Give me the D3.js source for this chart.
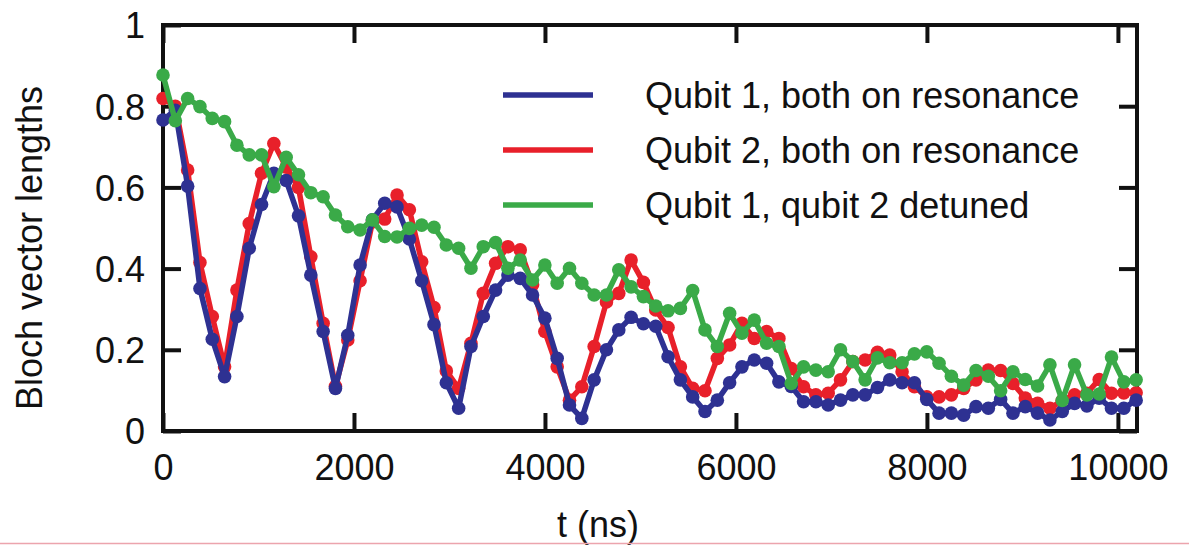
<!DOCTYPE html>
<html>
<head>
<meta charset="utf-8">
<script src="https://cdn.jsdelivr.net/npm/d3@7/dist/d3.min.js"></script>
<style>
  html, body { margin: 0; padding: 0; background: #fff; }
  svg { display: block; }
  text { font-family: "Liberation Sans", Arial, Helvetica, sans-serif; fill: #111; }
</style>
</head>
<body>
<svg id="chart" width="1189" height="545"></svg>
<script>
// Sampling times (ns)
const times = [0,129,258,387,516,645,774,903,1032,1161,1290,1419,1548,1677,1806,1935,2064,2193,2322,2451,
  2580,2709,2838,2967,3096,3225,3354,3483,3612,3741,3870,3999,4128,4257,4386,4515,4644,4773,4902,5031,
  5160,5289,5418,5547,5676,5805,5934,6063,6192,6321,6450,6579,6708,6837,6966,7095,7224,7353,7482,7611,
  7740,7869,7998,8127,8256,8385,8514,8643,8772,8901,9030,9159,9288,9417,9546,9675,9804,9933,10062,10191];

// Qubit 1, both on resonance
const qubit1Resonant = [0.766,0.79,0.603,0.351,0.226,0.134,0.282,0.45,0.558,0.635,
  0.617,0.53,0.384,0.245,0.105,0.236,0.409,0.52,0.561,0.552,
  0.473,0.37,0.262,0.119,0.056,0.208,0.282,0.347,0.384,0.376,
  0.335,0.278,0.179,0.064,0.031,0.126,0.2,0.249,0.28,0.264,
  0.258,0.183,0.126,0.084,0.048,0.076,0.119,0.158,0.175,0.167,
  0.121,0.11,0.072,0.072,0.064,0.076,0.089,0.089,0.107,0.126,
  0.119,0.119,0.078,0.044,0.044,0.039,0.06,0.056,0.078,0.044,
  0.06,0.044,0.027,0.048,0.068,0.062,0.081,0.056,0.056,0.076];

// Qubit 2, both on resonance
const qubit2Resonant = [0.819,0.80,0.643,0.415,0.282,0.158,0.347,0.511,0.635,0.708,
  0.65,0.6,0.429,0.265,0.11,0.224,0.37,0.515,0.522,0.581,
  0.545,0.417,0.304,0.148,0.105,0.216,0.339,0.413,0.454,0.446,
  0.36,0.245,0.158,0.076,0.109,0.208,0.318,0.339,0.421,0.366,
  0.298,0.255,0.158,0.105,0.099,0.179,0.212,0.265,0.228,0.245,
  0.228,0.154,0.109,0.089,0.093,0.126,0.171,0.175,0.194,0.187,
  0.146,0.109,0.084,0.084,0.089,0.105,0.126,0.15,0.149,0.117,
  0.081,0.068,0.056,0.075,0.089,0.093,0.127,0.093,0.094,0.094];

// Qubit 1, qubit 2 detuned
const qubit1Detuned = [0.877,0.764,0.819,0.799,0.77,0.762,0.704,0.68,0.68,0.602,
  0.674,0.631,0.587,0.577,0.532,0.503,0.495,0.52,0.479,0.478,
  0.499,0.507,0.502,0.458,0.45,0.401,0.454,0.464,0.401,0.421,
  0.372,0.409,0.364,0.401,0.364,0.335,0.335,0.397,0.355,0.331,
  0.308,0.296,0.302,0.346,0.249,0.208,0.29,0.241,0.273,0.216,
  0.208,0.117,0.158,0.15,0.146,0.2,0.171,0.126,0.18,0.168,
  0.168,0.19,0.195,0.167,0.135,0.113,0.149,0.135,0.099,0.146,
  0.127,0.111,0.163,0.075,0.163,0.089,0.091,0.182,0.121,0.126];

const seriesNames = ["Qubit 1, both on resonance", "Qubit 2, both on resonance", "Qubit 1, qubit 2 detuned"];
const seriesColors = ["#2e3192", "#e8202a", "#3aaa48"];
const xTicks = [0, 2000, 4000, 6000, 8000, 10000];
const yTicks = [0, 0.2, 0.4, 0.6, 0.8, 1];

(function draw() {
  const svg = d3.select("#chart");
  const plotLeft = 163, plotRight = 1137, plotTop = 25, plotBottom = 431;

  const x = d3.scaleLinear().domain([0, 10200]).range([plotLeft, plotRight]);
  const y = d3.scaleLinear().domain([0, 1]).range([plotBottom, plotTop]);

  const fontSize = 36;
  const frameWidth = 4;
  const tickLen = 18;

  // Axes with inward ticks; labels on left and bottom only
  const gx = svg.append("g").attr("transform", `translate(0,${plotBottom})`)
    .call(d3.axisBottom(x).tickValues(xTicks).tickFormat(d3.format("d")).tickSize(-tickLen).tickPadding(23));
  const gy = svg.append("g").attr("transform", `translate(${plotLeft},0)`)
    .call(d3.axisLeft(y).tickValues(yTicks)
      .tickFormat(d => d === 0 || d === 1 ? d3.format("d")(d) : d3.format(".1f")(d))
      .tickSize(-tickLen).tickPadding(18));
  const gxTop = svg.append("g").attr("transform", `translate(0,${plotTop})`)
    .call(d3.axisTop(x).tickValues(xTicks).tickFormat("").tickSize(-tickLen));
  const gyRight = svg.append("g").attr("transform", `translate(${plotRight},0)`)
    .call(d3.axisRight(y).tickValues(yTicks).tickFormat("").tickSize(-tickLen));

  [gx, gy, gxTop, gyRight].forEach(g => {
    g.select(".domain").remove();
    g.selectAll(".tick line").attr("stroke", "#111").attr("stroke-width", frameWidth);
    g.selectAll(".tick text").attr("font-size", fontSize).attr("fill", "#111")
      .attr("font-family", "'Liberation Sans', Arial, sans-serif");
  });
  gx.selectAll(".tick text").attr("dy", "0.71em");
  gy.selectAll(".tick text").attr("dy", "0.36em");

  // Plot frame
  svg.append("rect")
    .attr("x", plotLeft).attr("y", plotTop)
    .attr("width", plotRight - plotLeft).attr("height", plotBottom - plotTop)
    .attr("fill", "none").attr("stroke", "#111").attr("stroke-width", frameWidth);

  // Series: red first, then blue, then green on top
  const allSeries = [qubit1Resonant, qubit2Resonant, qubit1Detuned];
  const drawOrder = [1, 0, 2];
  const line = d3.line().x(d => x(d[0])).y(d => y(d[1]));

  drawOrder.forEach(k => {
    const pts = times.map((t, i) => [t, allSeries[k][i]]);
    const g = svg.append("g");
    g.append("path").datum(pts)
      .attr("d", line).attr("fill", "none")
      .attr("stroke", seriesColors[k]).attr("stroke-width", 5.5)
      .attr("stroke-linejoin", "round");
    g.selectAll("circle").data(pts).join("circle")
      .attr("cx", d => x(d[0])).attr("cy", d => y(d[1]))
      .attr("r", 6.8).attr("fill", seriesColors[k]);
  });

  // Legend
  const legendY = [95, 150, 205];
  seriesNames.forEach((name, k) => {
    svg.append("line")
      .attr("x1", 503).attr("x2", 593)
      .attr("y1", legendY[k]).attr("y2", legendY[k])
      .attr("stroke", seriesColors[k]).attr("stroke-width", 5.5);
    svg.append("text")
      .attr("x", 645).attr("y", legendY[k])
      .attr("dy", "0.36em")
      .attr("font-size", 36)
      .text(name);
  });

  // Axis titles
  svg.append("text")
    .attr("transform", `translate(42,${(plotTop + plotBottom) / 2 + 20}) rotate(-90)`)
    .attr("text-anchor", "middle")
    .attr("font-size", fontSize)
    .text("Bloch vector lengths");

  svg.append("text")
    .attr("x", 598).attr("y", 537)
    .attr("text-anchor", "middle")
    .attr("font-size", fontSize)
    .text("t (ns)");

  // Thin rule along the bottom edge
  svg.append("line")
    .attr("x1", 0).attr("x2", 1189)
    .attr("y1", 543.5).attr("y2", 543.5)
    .attr("stroke", "#eca4ad").attr("stroke-width", 1.5);
})();
</script>
</body>
</html>
